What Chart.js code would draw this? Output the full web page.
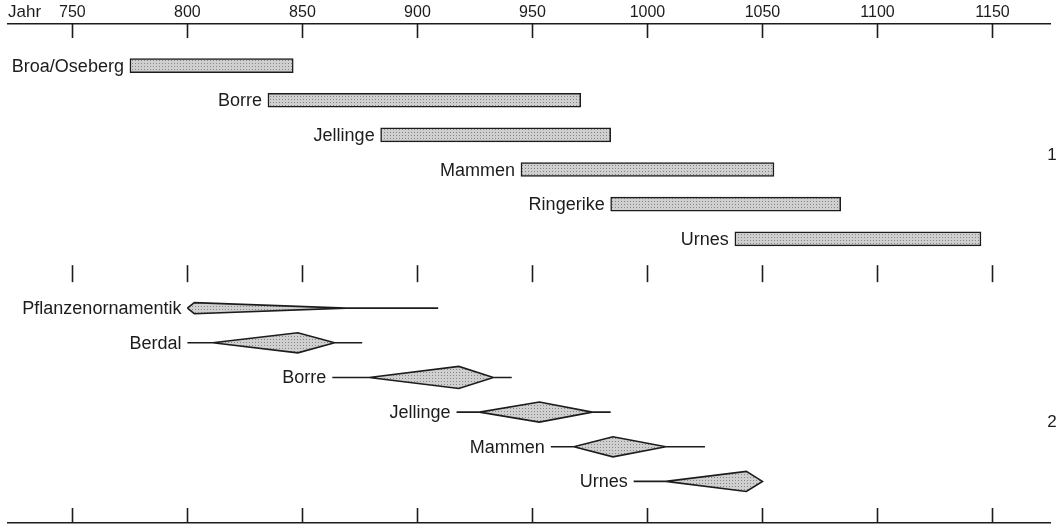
<!DOCTYPE html>
<html>
<head>
<meta charset="utf-8">
<script src="https://cdn.jsdelivr.net/npm/chart.js@4/dist/chart.umd.min.js"></script>
<style>
  html, body { margin: 0; padding: 0; background: #fff; }
  #wrap { width: 1058px; height: 528px; position: relative; }
</style>
</head>
<body>
<div id="wrap"><canvas id="grafico"></canvas></div>
<script>
const yearTicks = [750, 800, 850, 900, 950, 1000, 1050, 1100, 1150];

// 1: Stilperioden (Balken)
const styleNames = ["Broa/Oseberg", "Borre", "Jellinge", "Mammen", "Ringerike", "Urnes"];
const styleRows = [1, 2, 3, 4, 5, 6];
const styleFrom = [775, 835, 884, 945, 984, 1038];
const styleTo = [846, 971, 984, 1055, 1084, 1145];

// 2: Ornamentik (Spindeln)
const ornNames = ["Pflanzenornamentik", "Berdal", "Borre", "Jellinge", "Mammen", "Urnes"];
const ornRows = [8, 9, 10, 11, 12, 13];
const ornLineFrom = [800, 800, 863, 917, 958, 994];
const ornFrom = [800, 811, 879, 927, 968, 1008];
const ornPeak = [803, 848, 918, 953, 985, 1043];
const ornTo = [869, 864, 933, 976, 1008, 1050];
const ornLineTo = [909, 876, 941, 984, 1025, 1050];

// half thickness of each spindle, in row units
const ornHalf = [0.16, 0.29, 0.32, 0.29, 0.29, 0.29];

const ink = "#1c1c1c";
const fontFamily = "'Liberation Sans', Arial, sans-serif";

const makePattern = () => {
  const c = document.createElement("canvas");
  c.width = 3;
  c.height = 3;
  const g = c.getContext("2d");
  g.fillStyle = "#cfcfcf";
  g.fillRect(0, 0, 3, 3);
  g.fillStyle = "#878787";
  g.fillRect(0, 0, 1, 1);
  return g.createPattern(c, "repeat");
};
const raster = makePattern();

const barData = styleNames.map((n, i) => ({ x: [styleFrom[i], styleTo[i]], y: styleRows[i] }));

const spindles = ornNames.map((n, i) => {
  const r = ornRows[i];
  return {
    type: "line",
    indexAxis: "x",
    xAxisID: "x",
    yAxisID: "y",
    label: n,
    data: [
      { x: ornLineFrom[i], y: r },
      { x: ornFrom[i], y: r },
      { x: ornPeak[i], y: r - ornHalf[i] },
      { x: ornTo[i], y: r },
      { x: ornLineTo[i], y: r },
      { x: ornTo[i], y: r },
      { x: ornPeak[i], y: r + ornHalf[i] },
      { x: ornFrom[i], y: r },
    ],
    fill: "shape",
    backgroundColor: raster,
    borderColor: ink,
    borderWidth: 1.6,
    pointRadius: 0,
    tension: 0,
  };
});

const decorations = {
  id: "decorations",
  afterDatasetsDraw(chart) {
    const { ctx, chartArea, scales } = chart;
    const x = scales.x;
    const y = scales.y;
    ctx.save();
    ctx.strokeStyle = ink;
    ctx.lineWidth = 1.6;
    yearTicks.forEach((v) => {
      const px = Math.round(x.getPixelForValue(v)) + 0.5;
      const spans = [
        [chartArea.top, chartArea.top + 14],
        [y.getPixelForValue(6.76), y.getPixelForValue(7.25)],
        [chartArea.bottom - 15, chartArea.bottom],
      ];
      spans.forEach(([a, b]) => {
        ctx.beginPath();
        ctx.moveTo(px, a);
        ctx.lineTo(px, b);
        ctx.stroke();
      });
    });

    ctx.font = "18px " + fontFamily;
    ctx.fillStyle = ink;
    ctx.textBaseline = "middle";
    ctx.textAlign = "right";
    styleNames.forEach((n, i) => {
      ctx.fillText(n, x.getPixelForValue(styleFrom[i]) - 6, y.getPixelForValue(styleRows[i]) + 1);
    });
    ornNames.forEach((n, i) => {
      ctx.fillText(n, x.getPixelForValue(ornLineFrom[i]) - 6, y.getPixelForValue(ornRows[i]) + 1);
    });

    ctx.font = "17px " + fontFamily;
    ctx.textAlign = "left";
    ctx.fillText("Jahr", chartArea.left, chartArea.top - 12);
    ctx.textAlign = "center";
    ctx.fillText("1", chartArea.right + 2, y.getPixelForValue(3.6));
    ctx.fillText("2", chartArea.right + 2, y.getPixelForValue(11.3));
    ctx.restore();
  },
};

const config = {
  type: "bar",
  data: {
    datasets: [
      {
        type: "bar",
        indexAxis: "y",
        xAxisID: "x",
        yAxisID: "y",
        label: "Stile",
        data: barData,
        backgroundColor: raster,
        borderColor: ink,
        borderWidth: 1.5,
        borderSkipped: false,
        barThickness: 14,
      },
      ...spindles,
    ],
  },
  options: {
    responsive: true,
    maintainAspectRatio: false,
    animation: false,
    layout: { padding: { left: 8, right: 8, top: 0, bottom: 0 } },
    plugins: { legend: { display: false }, tooltip: { enabled: false } },
    scales: {
      x: {
        type: "linear",
        axis: "x",
        position: "top",
        offset: false,
        min: 722,
        max: 1175,
        afterBuildTicks: (ax) => { ax.ticks = yearTicks.map((v) => ({ value: v })); },
        afterFit: (ax) => { ax.height = 24; },
        grid: { display: false, drawTicks: false, offset: false },
        border: { display: true, color: ink, width: 1.6 },
        ticks: {
          padding: 2,
          color: ink,
          maxRotation: 0,
          autoSkip: false,
          font: { family: fontFamily, size: 16 },
          callback: (v) => String(v),
        },
      },
      xBottom: {
        type: "linear",
        axis: "x",
        position: "bottom",
        offset: false,
        min: 722,
        max: 1175,
        afterFit: (ax) => { ax.height = 5; },
        grid: { display: false, drawTicks: false, offset: false },
        border: { display: true, color: ink, width: 1.6 },
        ticks: { display: false },
      },
      y: {
        type: "linear",
        reverse: true,
        offset: false,
        beginAtZero: false,
        min: -0.2,
        max: 14.2,
        display: false,
        grid: { offset: false },
      },
    },
  },
  plugins: [decorations],
};

const myChart = new Chart(document.getElementById("grafico"), config);
</script>
</body>
</html>
